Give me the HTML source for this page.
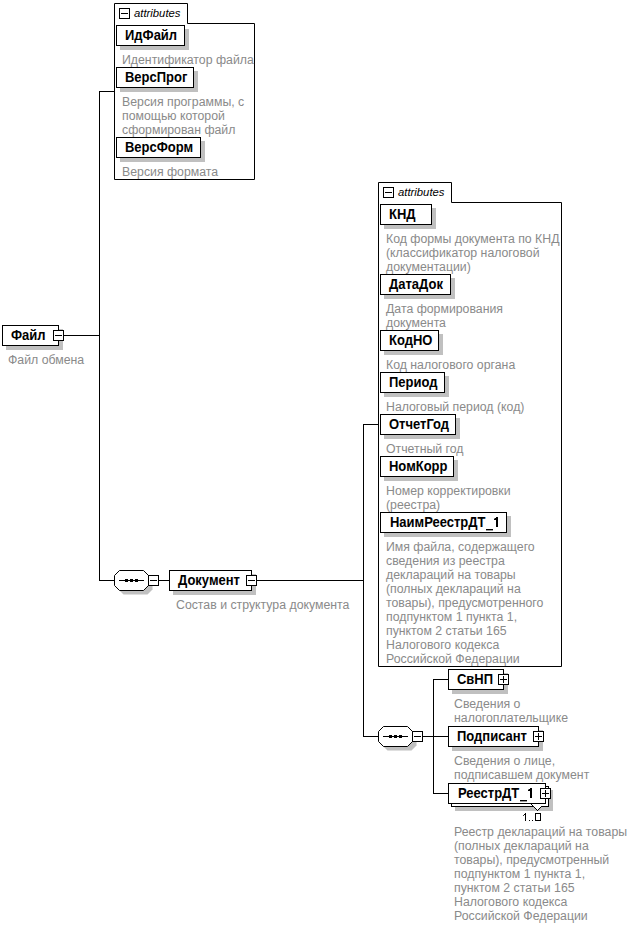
<!DOCTYPE html>
<html><head><meta charset="utf-8">
<style>
html,body{margin:0;padding:0;background:#fff;width:637px;height:926px;overflow:hidden}
svg{position:absolute;left:0;top:0;display:block}
text{font-family:"Liberation Sans",sans-serif}
.g{font-size:12.3px;fill:#8a8a8a}
.b{font-size:13px;font-weight:bold;fill:#000}
.i{font-size:11.3px;font-style:italic;fill:#000}
.m{font-size:11px;fill:#000}
</style></head><body>
<svg width="637" height="926" viewBox="0 0 637 926">
<rect x="63" y="335" width="37" height="1" fill="#000"/>
<rect x="99" y="91" width="1" height="490" fill="#000"/>
<rect x="99" y="91" width="16" height="1" fill="#000"/>
<rect x="99" y="580" width="16" height="1" fill="#000"/>
<rect x="158" y="580" width="12" height="1" fill="#000"/>
<rect x="256" y="580" width="108" height="1" fill="#000"/>
<rect x="363" y="424" width="1" height="313" fill="#000"/>
<rect x="363" y="424" width="16" height="1" fill="#000"/>
<rect x="363" y="736" width="16" height="1" fill="#000"/>
<rect x="422" y="736" width="27" height="1" fill="#000"/>
<rect x="433" y="679" width="1" height="115" fill="#000"/>
<rect x="433" y="679" width="16" height="1" fill="#000"/>
<rect x="433" y="793" width="16" height="1" fill="#000"/>
<rect x="6" y="329" width="57" height="21" fill="#c0c0c0"/>
<rect x="2.5" y="325.5" width="56" height="20" fill="#fff" stroke="#000" stroke-width="1"/>
<text transform="translate(11,340) scale(1,1.06)" class="b">Файл</text>
<rect x="53.5" y="330.5" width="10" height="10" fill="#fff" stroke="#000"/>
<rect x="55" y="335" width="7" height="1" fill="#000"/>
<text x="8" y="364" class="g">Файл обмена</text>
<path d="M114.5 179.5 V3.5 H187.5 V23.5 H254.5 V179.5 Z" fill="#fff" stroke="#000"/>
<rect x="119.5" y="8.5" width="10" height="10" fill="#fff" stroke="#000"/>
<rect x="121" y="13" width="7" height="1" fill="#000"/>
<text x="134" y="17" class="i">attributes</text>
<rect x="120" y="29" width="69" height="21" fill="#c0c0c0"/>
<rect x="116.5" y="25.5" width="68" height="20" fill="#fff" stroke="#000" stroke-width="1"/>
<text transform="translate(125,40) scale(1,1.06)" class="b">ИдФайл</text>
<text x="122" y="64" class="g">Идентификатор файла</text>
<rect x="120" y="71" width="78" height="21" fill="#c0c0c0"/>
<rect x="116.5" y="67.5" width="77" height="20" fill="#fff" stroke="#000" stroke-width="1"/>
<text transform="translate(125,82) scale(1,1.06)" class="b">ВерсПрог</text>
<text x="122" y="106" class="g">Версия программы, с</text>
<text x="122" y="120" class="g">помощью которой</text>
<text x="122" y="134" class="g">сформирован файл</text>
<rect x="120" y="141" width="85" height="21" fill="#c0c0c0"/>
<rect x="116.5" y="137.5" width="84" height="20" fill="#fff" stroke="#000" stroke-width="1"/>
<text transform="translate(125,152) scale(1,1.06)" class="b">ВерсФорм</text>
<text x="122" y="176" class="g">Версия формата</text>
<polygon points="123.5,574.5 147.5,574.5 152.5,579.5 152.5,589.5 147.5,594.5 123.5,594.5 118.5,589.5 118.5,579.5" fill="#c0c0c0" />
<polygon points="119.5,570.5 143.5,570.5 148.5,575.5 148.5,585.5 143.5,590.5 119.5,590.5 114.5,585.5 114.5,575.5" fill="#fff" stroke="#000"/>
<rect x="119" y="580" width="25" height="1" fill="#000"/>
<rect x="125" y="579" width="3" height="3" fill="#000"/>
<rect x="130" y="579" width="3" height="3" fill="#000"/>
<rect x="135" y="579" width="3" height="3" fill="#000"/>
<rect x="148.5" y="575.5" width="10" height="10" fill="#fff" stroke="#000"/>
<rect x="150" y="580" width="7" height="1" fill="#000"/>
<rect x="173" y="574" width="83" height="21" fill="#c0c0c0"/>
<rect x="169.5" y="570.5" width="82" height="20" fill="#fff" stroke="#000" stroke-width="1"/>
<text transform="translate(178,585) scale(1,1.06)" class="b">Документ</text>
<rect x="246.5" y="575.5" width="10" height="10" fill="#fff" stroke="#000"/>
<rect x="248" y="580" width="7" height="1" fill="#000"/>
<text x="176" y="609" class="g">Состав и структура документа</text>
<path d="M378.5 666.5 V182.5 H451.5 V202.5 H561.5 V666.5 Z" fill="#fff" stroke="#000"/>
<rect x="383.5" y="187.5" width="10" height="10" fill="#fff" stroke="#000"/>
<rect x="385" y="192" width="7" height="1" fill="#000"/>
<text x="398" y="196" class="i">attributes</text>
<rect x="384" y="208" width="52" height="21" fill="#c0c0c0"/>
<rect x="380.5" y="204.5" width="51" height="20" fill="#fff" stroke="#000" stroke-width="1"/>
<text transform="translate(389,219) scale(1,1.06)" class="b">КНД</text>
<text x="386" y="243" class="g">Код формы документа по КНД</text>
<text x="386" y="257" class="g">(классификатор налоговой</text>
<text x="386" y="271" class="g">документации)</text>
<rect x="384" y="278" width="71" height="21" fill="#c0c0c0"/>
<rect x="380.5" y="274.5" width="70" height="20" fill="#fff" stroke="#000" stroke-width="1"/>
<text transform="translate(389,289) scale(1,1.06)" class="b">ДатаДок</text>
<text x="386" y="313" class="g">Дата формирования</text>
<text x="386" y="327" class="g">документа</text>
<rect x="384" y="334" width="59" height="21" fill="#c0c0c0"/>
<rect x="380.5" y="330.5" width="58" height="20" fill="#fff" stroke="#000" stroke-width="1"/>
<text transform="translate(389,345) scale(1,1.06)" class="b">КодНО</text>
<text x="386" y="369" class="g">Код налогового органа</text>
<rect x="384" y="376" width="65" height="21" fill="#c0c0c0"/>
<rect x="380.5" y="372.5" width="64" height="20" fill="#fff" stroke="#000" stroke-width="1"/>
<text transform="translate(389,387) scale(1,1.06)" class="b">Период</text>
<text x="386" y="411" class="g">Налоговый период (код)</text>
<rect x="384" y="418" width="76" height="21" fill="#c0c0c0"/>
<rect x="380.5" y="414.5" width="75" height="20" fill="#fff" stroke="#000" stroke-width="1"/>
<text transform="translate(389,429) scale(1,1.06)" class="b">ОтчетГод</text>
<text x="386" y="453" class="g">Отчетный год</text>
<rect x="384" y="460" width="74" height="21" fill="#c0c0c0"/>
<rect x="380.5" y="456.5" width="73" height="20" fill="#fff" stroke="#000" stroke-width="1"/>
<text transform="translate(389,471) scale(1,1.06)" class="b">НомКорр</text>
<text x="386" y="495" class="g">Номер корректировки</text>
<text x="386" y="509" class="g">(реестра)</text>
<rect x="384" y="516" width="127" height="21" fill="#c0c0c0"/>
<rect x="380.5" y="512.5" width="126" height="20" fill="#fff" stroke="#000" stroke-width="1"/>
<text transform="translate(390,527) scale(1,1.06)" class="b">НаимРеестрДТ</text>
<rect x="486" y="529" width="7" height="1" fill="#000"/>
<rect x="486" y="530" width="7" height="1" fill="#999"/>
<rect x="496" y="517" width="2" height="10" fill="#000"/>
<rect x="495" y="518" width="1" height="1" fill="#000"/>
<rect x="494" y="519" width="2" height="1" fill="#000"/>
<rect x="494" y="518" width="1" height="1" fill="#888"/>
<text x="386" y="551" class="g">Имя файла, содержащего</text>
<text x="386" y="565" class="g">сведения из реестра</text>
<text x="386" y="579" class="g">деклараций на товары</text>
<text x="386" y="593" class="g">(полных деклараций на</text>
<text x="386" y="607" class="g">товары), предусмотренного</text>
<text x="386" y="621" class="g">подпунктом 1 пункта 1,</text>
<text x="386" y="635" class="g">пунктом 2 статьи 165</text>
<text x="386" y="649" class="g">Налогового кодекса</text>
<text x="386" y="663" class="g">Российской Федерации</text>
<polygon points="387.5,730.5 411.5,730.5 416.5,735.5 416.5,745.5 411.5,750.5 387.5,750.5 382.5,745.5 382.5,735.5" fill="#c0c0c0" />
<polygon points="383.5,726.5 407.5,726.5 412.5,731.5 412.5,741.5 407.5,746.5 383.5,746.5 378.5,741.5 378.5,731.5" fill="#fff" stroke="#000"/>
<rect x="383" y="736" width="25" height="1" fill="#000"/>
<rect x="389" y="735" width="3" height="3" fill="#000"/>
<rect x="394" y="735" width="3" height="3" fill="#000"/>
<rect x="399" y="735" width="3" height="3" fill="#000"/>
<rect x="412.5" y="731.5" width="10" height="10" fill="#fff" stroke="#000"/>
<rect x="414" y="736" width="7" height="1" fill="#000"/>
<rect x="452" y="673" width="56" height="21" fill="#c0c0c0"/>
<rect x="448.5" y="669.5" width="55" height="20" fill="#fff" stroke="#000" stroke-width="1"/>
<text transform="translate(457,684) scale(1,1.06)" class="b">СвНП</text>
<rect x="498.5" y="674.5" width="10" height="10" fill="#fff" stroke="#000"/>
<rect x="500" y="679" width="7" height="1" fill="#000"/>
<rect x="503" y="676" width="1" height="7" fill="#000"/>
<text x="454" y="708" class="g">Сведения о</text>
<text x="454" y="722" class="g">налогоплательщике</text>
<rect x="452" y="730" width="91" height="21" fill="#c0c0c0"/>
<rect x="448.5" y="726.5" width="90" height="20" fill="#fff" stroke="#000" stroke-width="1"/>
<text transform="translate(457,741) scale(1,1.06)" class="b">Подписант</text>
<rect x="533.5" y="731.5" width="10" height="10" fill="#fff" stroke="#000"/>
<rect x="535" y="736" width="7" height="1" fill="#000"/>
<rect x="538" y="733" width="1" height="7" fill="#000"/>
<text x="454" y="765" class="g">Сведения о лице,</text>
<text x="454" y="779" class="g">подписавшем документ</text>
<rect x="455" y="790" width="98" height="21" fill="#c0c0c0"/>
<rect x="451.5" y="786.5" width="97" height="20" fill="#fff" stroke="#000" stroke-width="1"/>
<rect x="448.5" y="783.5" width="97" height="20" fill="#fff" stroke="#000" stroke-width="1"/>
<text transform="translate(458,798) scale(1,1.06)" class="b">РеестрДТ</text>
<rect x="520" y="800" width="7" height="1" fill="#000"/>
<rect x="520" y="801" width="7" height="1" fill="#999"/>
<rect x="530" y="788" width="2" height="10" fill="#000"/>
<rect x="529" y="789" width="1" height="1" fill="#000"/>
<rect x="528" y="790" width="2" height="1" fill="#000"/>
<rect x="528" y="789" width="1" height="1" fill="#888"/>
<rect x="534" y="806" width="7" height="1" fill="#fff"/>
<rect x="535" y="807" width="5" height="1" fill="#fff"/>
<rect x="536" y="808" width="3" height="1" fill="#fff"/>
<rect x="537" y="809" width="1" height="1" fill="#fff"/>
<rect x="531" y="804" width="1" height="1" fill="#000"/>
<rect x="532" y="805" width="1" height="1" fill="#000"/>
<rect x="533" y="806" width="1" height="1" fill="#000"/>
<rect x="534" y="807" width="1" height="1" fill="#000"/>
<rect x="535" y="808" width="1" height="1" fill="#000"/>
<rect x="536" y="809" width="1" height="1" fill="#000"/>
<rect x="537" y="810" width="1" height="1" fill="#000"/>
<rect x="538" y="809" width="1" height="1" fill="#000"/>
<rect x="539" y="808" width="1" height="1" fill="#000"/>
<rect x="540" y="807" width="1" height="1" fill="#000"/>
<rect x="541" y="806" width="1" height="1" fill="#000"/>
<rect x="540.5" y="788.5" width="10" height="10" fill="#fff" stroke="#000"/>
<rect x="542" y="793" width="7" height="1" fill="#000"/>
<rect x="545" y="790" width="1" height="7" fill="#000"/>
<rect x="525" y="813" width="1" height="8" fill="#000"/>
<rect x="524" y="814" width="1" height="1" fill="#000"/>
<rect x="523" y="815" width="1" height="1" fill="#333"/>
<rect x="529" y="820" width="1" height="1" fill="#000"/>
<rect x="532" y="820" width="1" height="1" fill="#000"/>
<rect x="535.5" y="813.5" width="5" height="7" fill="none" stroke="#000"/>
<text x="454" y="836" class="g">Реестр деклараций на товары</text>
<text x="454" y="850" class="g">(полных деклараций на</text>
<text x="454" y="864" class="g">товары), предусмотренный</text>
<text x="454" y="878" class="g">подпунктом 1 пункта 1,</text>
<text x="454" y="892" class="g">пунктом 2 статьи 165</text>
<text x="454" y="906" class="g">Налогового кодекса</text>
<text x="454" y="920" class="g">Российской Федерации</text>
</svg>
</body></html>
